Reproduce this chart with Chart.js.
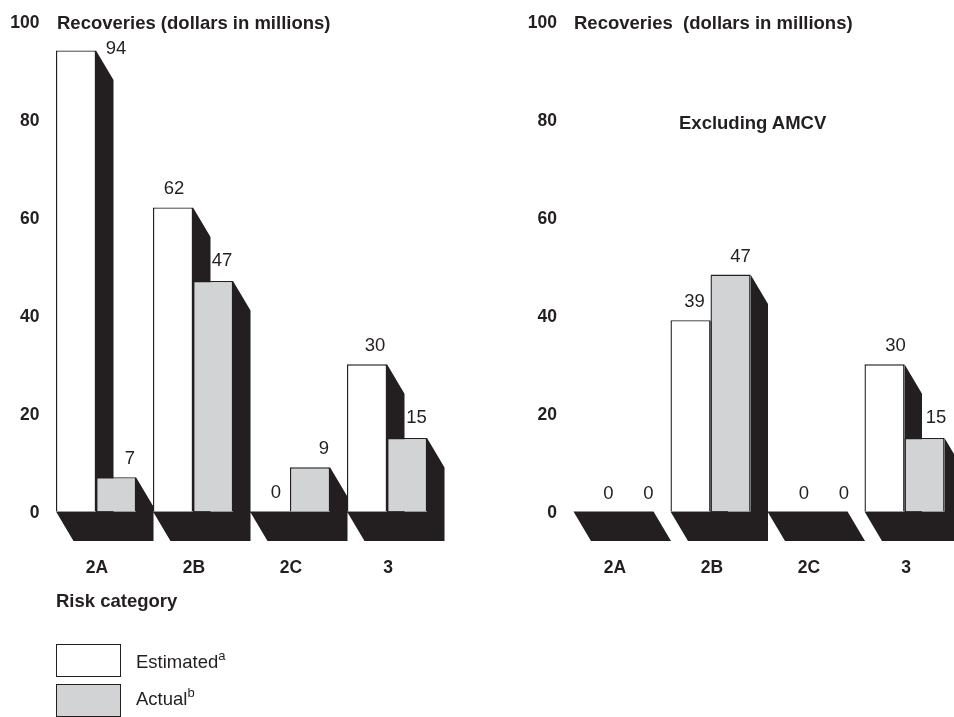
<!DOCTYPE html>
<html>
<head>
<meta charset="utf-8">
<title>Recoveries by risk category</title>
<script src="https://cdn.jsdelivr.net/npm/chart.js@4"></script>
<style>
  html, body { margin: 0; padding: 0; background: #fff; overflow: hidden; }
  body { width: 954px; height: 717px; position: relative; font-family: "Liberation Sans", Arial, sans-serif; color: #231f20; }
  canvas { position: absolute; top: 0; }
  #leftChart { left: 0; }
  #rightChart { left: 477px; }
  .txt { position: absolute; white-space: pre; line-height: 20px; font-size: 18.5px; }
  .b { font-weight: bold; }
  .box { position: absolute; left: 56px; width: 63px; height: 31px; border: 1px solid #231f20; }
  sup { font-size: 13px; line-height: 0; vertical-align: 8px; }
</style>
</head>
<body>
<canvas id="leftChart" width="477" height="717"></canvas>
<canvas id="rightChart" width="477" height="717"></canvas>

<div class="txt b" style="left:57px;top:13px">Recoveries (dollars in millions)</div>
<div class="txt b" style="left:574px;top:13px">Recoveries  (dollars in millions)</div>
<div class="txt b" style="left:679px;top:113px">Excluding AMCV</div>
<div class="txt b" style="left:56px;top:591px">Risk category</div>
<div class="box" style="top:644px;background:#fff"></div>
<div class="box" style="top:684px;background:#d1d3d4"></div>
<div class="txt" style="left:136px;top:652px">Estimated<sup>a</sup></div>
<div class="txt" style="left:136px;top:689px">Actual<sup>b</sup></div>

<script>
const categories = ["2A", "2B", "2C", "3"];
const yTicks = [0, 20, 40, 60, 80, 100];

const estimatedAll = [94, 62, 0, 30];
const actualAll = [7, 47, 9, 15];

const estimatedExAmcv = [0, 39, 0, 30];
// the 2B bar is printed a bit taller than its "47" label
const actualExAmcv = [0, 48.3, 0, 15];
const actualExAmcvLabels = [0, 47, 0, 15];

const INK = "#231f20";
const GREY = "#d1d3d4";
const DEPTH_X = 17.5;
const DEPTH_Y = 29.5;
const BASE_Y = 511.5;
const TOP_Y = 21;

// dark extrusion behind every bar, taken from the bar elements themselves.
// all of it goes in one path so no hairline shows where the pieces meet
const depthPlugin = {
  id: "depth",
  beforeDatasetsDraw(chart) {
    const ctx = chart.ctx;
    const first = chart.getDatasetMeta(0).data;
    const second = chart.getDatasetMeta(1).data;
    ctx.save();
    ctx.fillStyle = INK;
    ctx.beginPath();
    [first, second].forEach((bars) => {
      bars.forEach((bar) => {
        const right = bar.x + bar.width / 2;
        ctx.moveTo(right, bar.y);
        ctx.lineTo(right + DEPTH_X, bar.y + DEPTH_Y);
        ctx.lineTo(right + DEPTH_X, bar.base + DEPTH_Y);
        ctx.lineTo(right, bar.base);
        ctx.closePath();
      });
    });
    first.forEach((bar, j) => {
      const left = bar.x - bar.width / 2;
      const right = second[j].x + second[j].width / 2;
      ctx.moveTo(left, bar.base);
      ctx.lineTo(right, bar.base);
      ctx.lineTo(right + DEPTH_X, bar.base + DEPTH_Y);
      ctx.lineTo(left + DEPTH_X, bar.base + DEPTH_Y);
      ctx.closePath();
    });
    ctx.fill();
    ctx.restore();
  },
};

// value labels, nudged the way the original places them
const labelPlugin = {
  id: "barLabels",
  afterDatasetsDraw(chart, args, opts) {
    const ctx = chart.ctx;
    ctx.save();
    ctx.font = "18.5px 'Liberation Sans'";
    ctx.fillStyle = INK;
    ctx.textAlign = "center";
    ctx.textBaseline = "middle";
    chart.data.datasets.forEach((ds, i) => {
      chart.getDatasetMeta(i).data.forEach((bar, j) => {
        const nudge = opts.nudges[i][j];
        ctx.fillText(String(opts.texts[i][j]), bar.x + nudge[0], bar.y + nudge[1]);
      });
    });
    ctx.restore();
  },
};

function makeChart(id, estimated, actual, texts, nudges, axisWidth, padRight, xLabelShift) {
  return new Chart(document.getElementById(id), {
    type: "bar",
    data: {
      labels: categories,
      datasets: [
        { label: "Estimated", data: estimated, backgroundColor: "#fff", borderColor: INK, borderWidth: 1.4, categoryPercentage: 0.825, barPercentage: 1 },
        { label: "Actual", data: actual, backgroundColor: GREY, borderColor: INK, borderWidth: 1.4, categoryPercentage: 0.825, barPercentage: 1 },
      ],
    },
    options: {
      responsive: false,
      animation: false,
      layout: { padding: { top: TOP_Y, bottom: 717 - BASE_Y - 70, left: 0, right: padRight } },
      scales: {
        x: {
          grid: { display: false },
          border: { display: false },
          ticks: { color: INK, font: { family: "Liberation Sans", size: 17.5, weight: "bold" }, padding: 38, labelOffset: xLabelShift, maxRotation: 0 },
          afterFit: (scale) => { scale.height = 70; },
        },
        y: {
          min: 0,
          max: 100,
          grid: { display: false },
          border: { display: false },
          afterBuildTicks: (scale) => { scale.ticks = yTicks.map((v) => ({ value: v })); },
          ticks: { color: INK, font: { family: "Liberation Sans", size: 17.5, weight: "bold" }, padding: 0, labelOffset: 2 },
          afterFit: (scale) => { scale.width = axisWidth; },
        },
      },
      plugins: {
        legend: { display: false },
        tooltip: { enabled: false },
        barLabels: { texts: texts, nudges: nudges },
      },
    },
    plugins: [depthPlugin, labelPlugin],
  });
}

makeChart("leftChart", estimatedAll, actualAll, [estimatedAll, actualAll], [
  [[40, -1.5], [1, -18], [6, -18.5], [8, -18.5]],
  [[14, -18.5], [9, -20], [14, -18.5], [9.5, -20]],
], 47.5, 41.5, 1);

makeChart("rightChart", estimatedExAmcv, actualExAmcv, [estimatedExAmcv, actualExAmcvLabels], [
  [[15, -18], [4, -18], [16.5, -18], [11, -18.5]],
  [[15, -18], [10, -18], [16.5, -18], [11.5, -20]],
], 88, 1, 1.5);
</script>
</body>
</html>
